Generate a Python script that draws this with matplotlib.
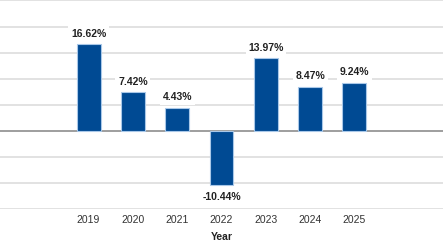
import matplotlib.pyplot as plt
import numpy as np

years = ['2019', '2020', '2021', '2022', '2023', '2024', '2025']
returns = [16.62, 7.42, 4.43, -10.44, 13.97, 8.47, 9.24]
labels = ['16.62%', '7.42%', '4.43%', '-10.44%', '13.97%', '8.47%', '9.24%']

plt.rcParams['font.family'] = ['Liberation Sans Narrow', 'Liberation Sans', 'DejaVu Sans']

fig = plt.figure(figsize=(4.43, 2.47), dpi=100)
ax = fig.add_axes([0, 0.153, 1, 0.845])

x = np.arange(len(years))
ax.bar(x, returns, width=0.54, color='#004a93', edgecolor='#a9c8e8', linewidth=0.8, zorder=3)

# value labels with white boxes that cut the gridlines
for xi, v, lab in zip(x, returns, labels):
    off = 7.5 if v >= 0 else -8
    ax.annotate(lab, (xi, v), xytext=(0, off), textcoords='offset points',
                ha='center', va='center', fontsize=7.5, fontweight='bold', color='#222222',
                bbox=dict(boxstyle='square,pad=0.25', fc='white', ec='none'), zorder=4)

ax.set_ylim(-15, 25)
ax.set_xlim(-2, 8)
ax.set_yticks(np.arange(-15, 26, 5))
ax.yaxis.grid(True, color='#dadada', linewidth=1.1, zorder=0)
ax.axhline(0, color='#8c8c8c', linewidth=1.1, zorder=2)
ax.set_yticklabels([])
ax.tick_params(axis='y', length=0)
ax.set_xticks(x)
ax.set_xticklabels(years, fontsize=7.5, color='#333333')
ax.tick_params(axis='x', length=0, pad=4)
ax.set_xlabel('Year', fontsize=7.5, fontweight='bold', color='#222222', labelpad=5)
for s in ax.spines.values():
    s.set_visible(False)

fig.savefig('out.png', dpi=100)
